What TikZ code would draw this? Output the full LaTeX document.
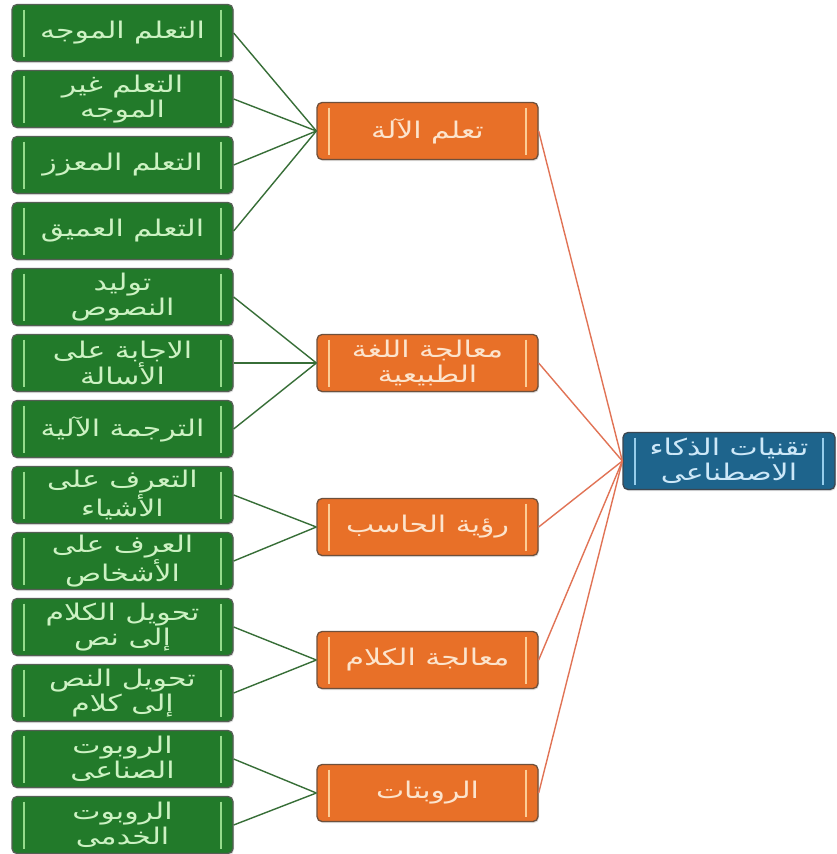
\documentclass[tikz,border=0pt]{standalone}
\usepackage{fontspec}
\newfontfamily\arabicfont[Script=Arabic,FakeStretch=1.3]{DejaVu Sans}
\TeXXeTstate=1
\usetikzlibrary{shadows}
\newcommand\artxt[1]{\beginR #1\endR}
\definecolor{leaffill}{RGB}{34,122,42}
\definecolor{leafbar}{RGB}{150,220,140}
\definecolor{leaftext}{RGB}{205,242,195}
\definecolor{leafborder}{RGB}{85,95,85}
\definecolor{midfill}{RGB}{232,112,40}
\definecolor{midbar}{RGB}{252,205,150}
\definecolor{midtext}{RGB}{252,228,205}
\definecolor{midborder}{RGB}{110,80,60}
\definecolor{rootfill}{RGB}{30,100,140}
\definecolor{rootbar}{RGB}{150,205,235}
\definecolor{roottext}{RGB}{205,232,248}
\definecolor{rootborder}{RGB}{60,70,80}
\definecolor{gline}{RGB}{55,110,55}
\definecolor{oline}{RGB}{225,115,85}
\tikzset{
  barpair/.style={path picture={
    \draw[#1, line width=2.2pt]
      ([xshift=12pt,yshift=-5pt]path picture bounding box.north west) --
      ([xshift=12pt,yshift=5pt]path picture bounding box.south west);
    \draw[#1, line width=2.2pt]
      ([xshift=-12pt,yshift=-5pt]path picture bounding box.north east) --
      ([xshift=-12pt,yshift=5pt]path picture bounding box.south east);
  }},
  boxbase/.style={rounded corners=5pt, line width=1.3pt, minimum height=57pt,
    inner sep=0pt, align=center,
    font=\arabicfont\fontsize{23}{25}\selectfont,
    drop shadow={opacity=0.25, shadow xshift=1pt, shadow yshift=-1.5pt}},
  leafbox/.style={boxbase, draw=leafborder, fill=leaffill, text=leaftext,
    minimum width=221pt, barpair=leafbar},
  midbox/.style={boxbase, draw=midborder, fill=midfill, text=midtext,
    minimum width=221pt, barpair=midbar},
  rootbox/.style={boxbase, draw=rootborder, fill=rootfill, text=roottext,
    minimum width=212pt, barpair=rootbar},
  gedge/.style={draw=gline, line width=1.4pt},
  oedge/.style={draw=oline, line width=1.4pt},
}
\begin{document}
\begin{tikzpicture}
\useasboundingbox[fill=white] (0pt,0pt) rectangle (837pt,-854pt);
% leaves
\node[leafbox] (l1) at (122.5pt,-33pt) {\artxt{التعلم الموجه}};
\node[leafbox] (l2) at (122.5pt,-99pt) {\artxt{التعلم غير}\\\artxt{الموجه}};
\node[leafbox] (l3) at (122.5pt,-165pt) {\artxt{التعلم المعزز}};
\node[leafbox] (l4) at (122.5pt,-231pt) {\artxt{التعلم العميق}};
\node[leafbox] (l5) at (122.5pt,-297pt) {\artxt{توليد}\\\artxt{النصوص}};
\node[leafbox] (l6) at (122.5pt,-363pt) {\artxt{الاجابة على}\\\artxt{الأسالة}};
\node[leafbox] (l7) at (122.5pt,-429pt) {\artxt{الترجمة الآلية}};
\node[leafbox] (l8) at (122.5pt,-495pt) {\artxt{التعرف على}\\\artxt{الأشياء}};
\node[leafbox] (l9) at (122.5pt,-561pt) {\artxt{العرف على}\\\artxt{الأشخاص}};
\node[leafbox] (l10) at (122.5pt,-627pt) {\artxt{تحويل الكلام}\\\artxt{إلى نص}};
\node[leafbox] (l11) at (122.5pt,-693pt) {\artxt{تحويل النص}\\\artxt{إلى كلام}};
\node[leafbox] (l12) at (122.5pt,-759pt) {\artxt{الروبوت}\\\artxt{الصناعى}};
\node[leafbox] (l13) at (122.5pt,-825pt) {\artxt{الروبوت}\\\artxt{الخدمى}};
% middle
\node[midbox] (m1) at (427.5pt,-131pt) {\artxt{تعلم الآلة}};
\node[midbox] (m2) at (427.5pt,-363pt) {\artxt{معالجة اللغة}\\\artxt{الطبيعية}};
\node[midbox] (m3) at (427.5pt,-527pt) {\artxt{رؤية الحاسب}};
\node[midbox] (m4) at (427.5pt,-660pt) {\artxt{معالجة الكلام}};
\node[midbox] (m5) at (427.5pt,-793pt) {\artxt{الروبتات}};
% root
\node[rootbox] (root) at (729pt,-461pt) {\artxt{تقنيات الذكاء}\\\artxt{الاصطناعى}};
% green connectors
\foreach \i in {1,2,3,4} \draw[gedge] (l\i.east) -- (m1.west);
\foreach \i in {5,6,7} \draw[gedge] (l\i.east) -- (m2.west);
\foreach \i in {8,9} \draw[gedge] (l\i.east) -- (m3.west);
\foreach \i in {10,11} \draw[gedge] (l\i.east) -- (m4.west);
\foreach \i in {12,13} \draw[gedge] (l\i.east) -- (m5.west);
% orange connectors
\foreach \i in {1,2,3,4,5} \draw[oedge] (m\i.east) -- (root.west);
\end{tikzpicture}
\end{document}
